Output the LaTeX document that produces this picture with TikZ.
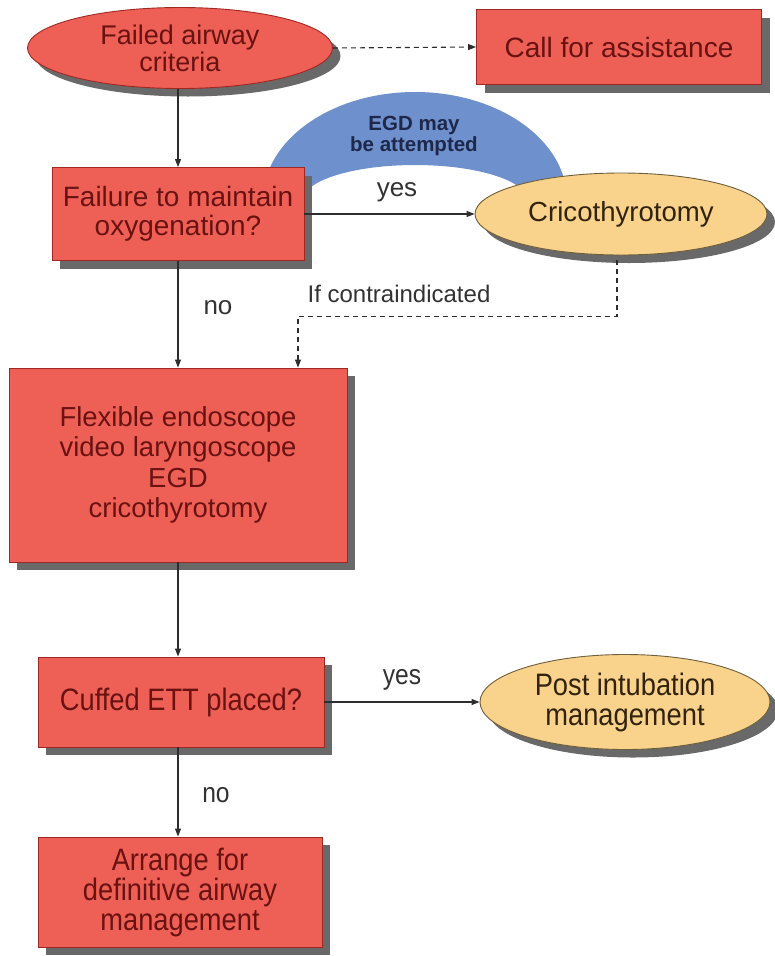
\documentclass[tikz,border=0pt]{standalone}
\usepackage{fontspec}
\setmainfont{Liberation Sans}
\newfontfamily\narrowfont{Liberation Sans}[FakeStretch=0.88]
\usetikzlibrary{shapes.geometric,arrows.meta,shadows}
\definecolor{boxred}{RGB}{238,96,86}
\definecolor{boxredline}{RGB}{160,40,35}
\definecolor{boxtext}{RGB}{105,18,18}
\definecolor{ovalorange}{RGB}{249,210,140}
\definecolor{ovalline}{RGB}{110,95,60}
\definecolor{ovaltext}{RGB}{50,35,15}
\definecolor{egdblue}{RGB}{110,144,204}
\definecolor{egdtext}{RGB}{30,40,75}
\definecolor{shadowgray}{RGB}{105,105,105}
\definecolor{linegray}{RGB}{45,45,45}
\definecolor{labelgray}{RGB}{50,50,50}
\tikzset{
  shad/.style={drop shadow={shadow xshift=8pt, shadow yshift=-8pt, opacity=1, fill=shadowgray}},
  redbox/.style={rectangle, shad, fill=boxred, draw=boxredline, line width=0.9pt,
    text=boxtext, align=center, inner sep=0pt, font=\fontsize{28}{29}\selectfont},
  redoval/.style={ellipse, shad, fill=boxred, draw=boxredline, line width=0.9pt,
    text=boxtext, align=center, inner sep=0pt, font=\fontsize{27}{27}\selectfont},
  orangeoval/.style={ellipse, shad, fill=ovalorange, draw=ovalline, line width=0.9pt,
    text=ovaltext, align=center, inner sep=0pt, font=\fontsize{27.6}{28}\selectfont},
  narrowtxt/.style={font=\narrowfont\fontsize{31}{30}\selectfont},
  conn/.style={draw=linegray, line width=1.1pt, -{Triangle[length=8pt,width=6pt]}},
  dashconn/.style={conn, dash pattern=on 5pt off 4pt},
  lbl/.style={text=labelgray, inner sep=0pt, font=\fontsize{26}{26}\selectfont}
}
\begin{document}
\begin{tikzpicture}[x=1pt,y=-1pt]
\useasboundingbox[fill=white] (0,0) rectangle (775,956);
% blue arch
\begin{scope}
  \clip (240,70) rectangle (600,200);
  \fill[egdblue, even odd rule] (415,200) ellipse [x radius=152pt, y radius=108pt]
                                 (415,200) ellipse [x radius=112pt, y radius=35pt];
\end{scope}
\node[text=egdtext, align=center, inner sep=0pt, font=\bfseries\fontsize{20.5}{21}\selectfont] (egd) at (414,136) {EGD may\\be attempted};
% nodes
\node[redoval, minimum width=305pt, minimum height=81pt] (fa) at (180,48) {Failed airway\\criteria};
\node[redbox, minimum width=285pt, minimum height=75pt] (call) at (619,47) {Call for assistance};
\node[redbox, minimum width=252pt, minimum height=93pt] (fm) at (178,214) {Failure to maintain\\oxygenation?};
\node[orangeoval, minimum width=292pt, minimum height=82pt] (crico) at (621,214) {Cricothyrotomy};
\node[redbox, minimum width=338pt, minimum height=194pt, font=\fontsize{27.5}{30.5}\selectfont] (flex) at (178,465) {Flexible endoscope\\video laryngoscope\\EGD\\cricothyrotomy};
\node[redbox, narrowtxt, minimum width=286pt, minimum height=90pt] (cuff) at (181,702) {Cuffed ETT placed?};
\node[orangeoval, narrowtxt, minimum width=290pt, minimum height=95pt] (post) at (625,702) {Post intubation\\management};
\node[redbox, narrowtxt, minimum width=284pt, minimum height=110pt] (arr) at (180,892) {Arrange for\\definitive airway\\management};
% connectors
\draw[dashconn] (fa.east) -- (call.west);
\draw[conn] (fa.south -| fm.north) -- (fm.north);
\draw[conn] (fm.east) -- (crico.west);
\draw[conn] (fm.south) -- (fm.south |- flex.north);
\draw[dashconn] ([xshift=-4pt,yshift=-5pt]crico.south) -- ++(0,56) coordinate (dc) -| ([xshift=120pt]flex.north);
\draw[conn] (flex.south) -- (flex.south |- cuff.north);
\draw[conn] (cuff.east) -- (post.west);
\draw[conn] (cuff.south -| flex.south) -- (flex.south |- arr.north);
% labels
\node[lbl] (yes1) at (397,192) {yes};
\node[lbl] (no1) at (218,308) {no};
\node[lbl, font=\fontsize{24}{24}\selectfont] (ifc) at (399,294) {If contraindicated};
\node[lbl, font=\narrowfont\fontsize{28}{28}\selectfont] (yes2) at (402,680) {yes};
\node[lbl, font=\narrowfont\fontsize{28}{28}\selectfont] (no2) at (216,795) {no};
\end{tikzpicture}
\end{document}
